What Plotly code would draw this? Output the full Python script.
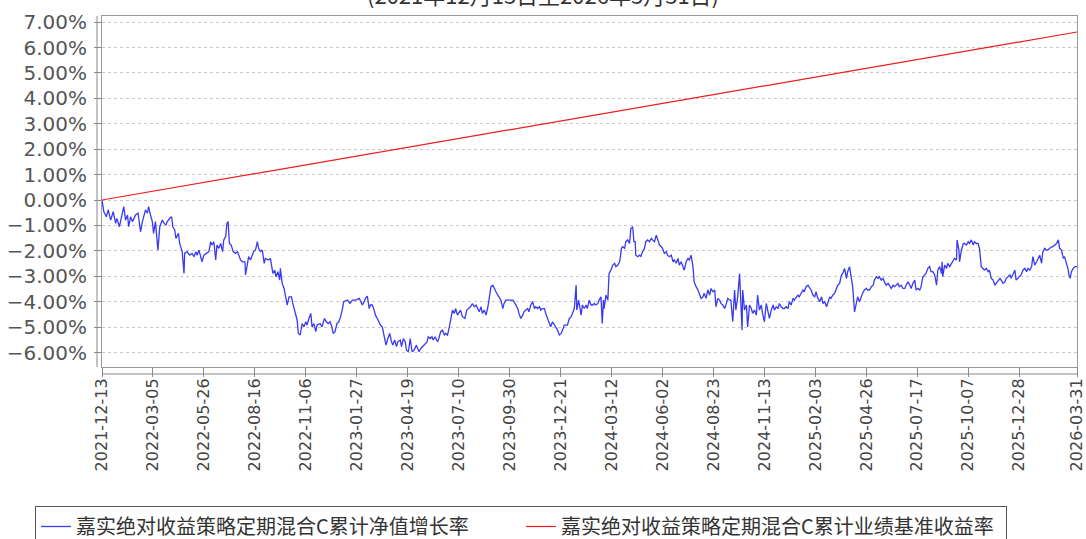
import plotly.graph_objects as go

# ---------------- data ----------------
x_tick_labels = [
    "2021-12-13", "2022-03-05", "2022-05-26", "2022-08-16", "2022-11-06",
    "2023-01-27", "2023-04-19", "2023-07-10", "2023-09-30", "2023-12-21",
    "2024-03-12", "2024-06-02", "2024-08-23", "2024-11-13", "2025-02-03",
    "2025-04-26", "2025-07-17", "2025-10-07", "2025-12-28", "2026-03-31",
]

nav_name = "嘉实绝对收益策略定期混合C累计净值增长率"
bench_name = "嘉实绝对收益策略定期混合C累计业绩基准收益率"
title_text = "(2021年12月13日至2026年3月31日)"

nav_dates = [
    "2021-12-13", "2021-12-16", "2021-12-20", "2021-12-23", "2021-12-27", "2021-12-31",
    "2022-01-04", "2022-01-06", "2022-01-10", "2022-01-13", "2022-01-17", "2022-01-20",
    "2022-01-23", "2022-01-25", "2022-01-28", "2022-01-31", "2022-02-05", "2022-02-09",
    "2022-02-13", "2022-02-16", "2022-02-21", "2022-02-24", "2022-02-26", "2022-03-01",
    "2022-03-04", "2022-03-06", "2022-03-09", "2022-03-13", "2022-03-16", "2022-03-20",
    "2022-03-23", "2022-03-26", "2022-03-28", "2022-04-01", "2022-04-04", "2022-04-06",
    "2022-04-09", "2022-04-11", "2022-04-15", "2022-04-17", "2022-04-21", "2022-04-24",
    "2022-04-25", "2022-04-29", "2022-05-03", "2022-05-07", "2022-05-10", "2022-05-13",
    "2022-05-15", "2022-05-18", "2022-05-21", "2022-05-23", "2022-05-26", "2022-05-30",
    "2022-06-03", "2022-06-06", "2022-06-08", "2022-06-11", "2022-06-14", "2022-06-16",
    "2022-06-19", "2022-06-22", "2022-06-25", "2022-06-27", "2022-06-30", "2022-07-02",
    "2022-07-04", "2022-07-06", "2022-07-09", "2022-07-12", "2022-07-16", "2022-07-19",
    "2022-07-21", "2022-07-24", "2022-07-27", "2022-07-31", "2022-08-01", "2022-08-04",
    "2022-08-06", "2022-08-09", "2022-08-12", "2022-08-14", "2022-08-17", "2022-08-20",
    "2022-08-22", "2022-08-25", "2022-08-28", "2022-08-31", "2022-09-02", "2022-09-07",
    "2022-09-10", "2022-09-12", "2022-09-14", "2022-09-17", "2022-09-19", "2022-09-22",
    "2022-09-25", "2022-09-26", "2022-09-29", "2022-10-02", "2022-10-04", "2022-10-07",
    "2022-10-10", "2022-10-14", "2022-10-16", "2022-10-19", "2022-10-23", "2022-10-25",
    "2022-10-28", "2022-10-31", "2022-11-03", "2022-11-06", "2022-11-08", "2022-11-11",
    "2022-11-14", "2022-11-16", "2022-11-19", "2022-11-22", "2022-11-24", "2022-11-29",
    "2022-12-02", "2022-12-06", "2022-12-09", "2022-12-12", "2022-12-15", "2022-12-18",
    "2022-12-20", "2022-12-23", "2022-12-26", "2022-12-29", "2023-01-01", "2023-01-04",
    "2023-01-06", "2023-01-12", "2023-01-16", "2023-01-20", "2023-01-25", "2023-01-31",
    "2023-02-02", "2023-02-05", "2023-02-08", "2023-02-10", "2023-02-13", "2023-02-16",
    "2023-02-18", "2023-02-21", "2023-02-24", "2023-02-26", "2023-03-01", "2023-03-04",
    "2023-03-06", "2023-03-09", "2023-03-12", "2023-03-15", "2023-03-18", "2023-03-21",
    "2023-03-24", "2023-03-26", "2023-03-29", "2023-04-01", "2023-04-03", "2023-04-07",
    "2023-04-09", "2023-04-12", "2023-04-15", "2023-04-17", "2023-04-20", "2023-04-23",
    "2023-04-26", "2023-04-29", "2023-05-03", "2023-05-07", "2023-05-10", "2023-05-13",
    "2023-05-16", "2023-05-20", "2023-05-22", "2023-05-25", "2023-05-28", "2023-05-30",
    "2023-06-02", "2023-06-06", "2023-06-08", "2023-06-11", "2023-06-14", "2023-06-17",
    "2023-06-19", "2023-06-22", "2023-06-25", "2023-06-28", "2023-06-30", "2023-07-03",
    "2023-07-05", "2023-07-08", "2023-07-11", "2023-07-13", "2023-07-16", "2023-07-20",
    "2023-07-23", "2023-07-26", "2023-07-29", "2023-08-01", "2023-08-04", "2023-08-07",
    "2023-08-09", "2023-08-12", "2023-08-15", "2023-08-17", "2023-08-20", "2023-08-23",
    "2023-08-26", "2023-08-28", "2023-08-31", "2023-09-03", "2023-09-05", "2023-09-08",
    "2023-09-11", "2023-09-13", "2023-09-16", "2023-09-19", "2023-09-21", "2023-09-24",
    "2023-09-29", "2023-10-05", "2023-10-07", "2023-10-10", "2023-10-13", "2023-10-15",
    "2023-10-18", "2023-10-21", "2023-10-23", "2023-10-26", "2023-10-29", "2023-10-31",
    "2023-11-03", "2023-11-06", "2023-11-09", "2023-11-11", "2023-11-14", "2023-11-17",
    "2023-11-19", "2023-11-22", "2023-11-25", "2023-11-27", "2023-11-30", "2023-12-03",
    "2023-12-05", "2023-12-08", "2023-12-11", "2023-12-13", "2023-12-16", "2023-12-19",
    "2023-12-22", "2023-12-24", "2023-12-27", "2024-01-01", "2024-01-04", "2024-01-07",
    "2024-01-09", "2024-01-12", "2024-01-15", "2024-01-16", "2024-01-19", "2024-01-21",
    "2024-01-23", "2024-01-25", "2024-01-28", "2024-01-31", "2024-02-02", "2024-02-05",
    "2024-02-08", "2024-02-11", "2024-02-13", "2024-02-16", "2024-02-19", "2024-02-21",
    "2024-02-24", "2024-02-26", "2024-02-28", "2024-02-29", "2024-03-03", "2024-03-06",
    "2024-03-08", "2024-03-11", "2024-03-14", "2024-03-17", "2024-03-19", "2024-03-22",
    "2024-03-25", "2024-03-28", "2024-03-30", "2024-04-02", "2024-04-04", "2024-04-07",
    "2024-04-10", "2024-04-12", "2024-04-15", "2024-04-17", "2024-04-19", "2024-04-20",
    "2024-04-23", "2024-04-26", "2024-04-28", "2024-05-01", "2024-05-04", "2024-05-06",
    "2024-05-09", "2024-05-12", "2024-05-15", "2024-05-17", "2024-05-20", "2024-05-23",
    "2024-05-25", "2024-05-28", "2024-05-31", "2024-06-02", "2024-06-05", "2024-06-08",
    "2024-06-10", "2024-06-13", "2024-06-16", "2024-06-19", "2024-06-21", "2024-06-24",
    "2024-06-27", "2024-06-29", "2024-07-02", "2024-07-05", "2024-07-07", "2024-07-10",
    "2024-07-13", "2024-07-15", "2024-07-18", "2024-07-21", "2024-07-23", "2024-07-26",
    "2024-07-29", "2024-08-01", "2024-08-03", "2024-08-06", "2024-08-08", "2024-08-11",
    "2024-08-14", "2024-08-17", "2024-08-19", "2024-08-22", "2024-08-25", "2024-08-27",
    "2024-08-30", "2024-09-02", "2024-09-04", "2024-09-07", "2024-09-10", "2024-09-12",
    "2024-09-15", "2024-09-18", "2024-09-20", "2024-09-23", "2024-09-26", "2024-09-28",
    "2024-10-01", "2024-10-04", "2024-10-05", "2024-10-08", "2024-10-09", "2024-10-12",
    "2024-10-15", "2024-10-17", "2024-10-20", "2024-10-23", "2024-10-25", "2024-10-28",
    "2024-10-31", "2024-11-02", "2024-11-05", "2024-11-08", "2024-11-10", "2024-11-13",
    "2024-11-16", "2024-11-19", "2024-11-21", "2024-11-24", "2024-11-27", "2024-11-29",
    "2024-12-02", "2024-12-05", "2024-12-07", "2024-12-10", "2024-12-13", "2024-12-15",
    "2024-12-18", "2024-12-21", "2024-12-23", "2024-12-26", "2024-12-29", "2024-12-31",
    "2025-01-03", "2025-01-06", "2025-01-08", "2025-01-11", "2025-01-14", "2025-01-16",
    "2025-01-19", "2025-01-22", "2025-01-25", "2025-01-27", "2025-01-30", "2025-02-02",
    "2025-02-04", "2025-02-07", "2025-02-10", "2025-02-13", "2025-02-15", "2025-02-18",
    "2025-02-21", "2025-02-23", "2025-02-26", "2025-02-28", "2025-03-03", "2025-03-06",
    "2025-03-08", "2025-03-11", "2025-03-14", "2025-03-17", "2025-03-19", "2025-03-22",
    "2025-03-25", "2025-03-27", "2025-03-30", "2025-04-02", "2025-04-04", "2025-04-07",
    "2025-04-10", "2025-04-12", "2025-04-15", "2025-04-18", "2025-04-20", "2025-04-23",
    "2025-04-26", "2025-04-28", "2025-05-01", "2025-05-04", "2025-05-07", "2025-05-09",
    "2025-05-12", "2025-05-15", "2025-05-17", "2025-05-20", "2025-05-23", "2025-05-25",
    "2025-05-28", "2025-05-31", "2025-06-02", "2025-06-05", "2025-06-08", "2025-06-10",
    "2025-06-13", "2025-06-16", "2025-06-18", "2025-06-21", "2025-06-24", "2025-06-27",
    "2025-06-29", "2025-07-02", "2025-07-05", "2025-07-07", "2025-07-10", "2025-07-13",
    "2025-07-15", "2025-07-18", "2025-07-21", "2025-07-23", "2025-07-26", "2025-07-29",
    "2025-07-31", "2025-08-03", "2025-08-06", "2025-08-08", "2025-08-11", "2025-08-14",
    "2025-08-17", "2025-08-19", "2025-08-22", "2025-08-25", "2025-08-26", "2025-08-27",
    "2025-08-30", "2025-09-02", "2025-09-04", "2025-09-07", "2025-09-10", "2025-09-12",
    "2025-09-15", "2025-09-18", "2025-09-19", "2025-09-22", "2025-09-23", "2025-09-26",
    "2025-09-29", "2025-10-01", "2025-10-04", "2025-10-07", "2025-10-09", "2025-10-12",
    "2025-10-15", "2025-10-17", "2025-10-20", "2025-10-23", "2025-10-25", "2025-10-28",
    "2025-10-31", "2025-11-02", "2025-11-05", "2025-11-08", "2025-11-10", "2025-11-13",
    "2025-11-16", "2025-11-19", "2025-11-21", "2025-11-24", "2025-11-27", "2025-11-29",
    "2025-12-02", "2025-12-05", "2025-12-07", "2025-12-10", "2025-12-13", "2025-12-15",
    "2025-12-18", "2025-12-21", "2025-12-23", "2025-12-26", "2025-12-29", "2025-12-31",
    "2026-01-03", "2026-01-06", "2026-01-09", "2026-01-11", "2026-01-14", "2026-01-17",
    "2026-01-19", "2026-01-22", "2026-01-25", "2026-01-27", "2026-01-30", "2026-02-02",
    "2026-02-04", "2026-02-07", "2026-02-10", "2026-02-12", "2026-02-15", "2026-02-18",
    "2026-02-20", "2026-02-23", "2026-02-26", "2026-03-01", "2026-03-03", "2026-03-06",
    "2026-03-09", "2026-03-11", "2026-03-14", "2026-03-17", "2026-03-18", "2026-03-20",
    "2026-03-22", "2026-03-25", "2026-03-28", "2026-03-31",
]

nav_values = [
    0.00, -0.46, -0.66, -0.39, -0.79, -0.46,
    -0.92, -0.72, -1.05, -0.66, -0.26, -0.79,
    -0.59, -1.05, -0.66, -0.85, -0.59, -0.52,
    -1.25, -0.85, -0.39, -0.52, -0.26, -0.59,
    -0.85, -1.31, -0.85, -1.97, -1.05, -0.79,
    -0.92, -0.98, -0.85, -0.72, -0.66, -1.05,
    -1.18, -1.51, -1.31, -1.71, -2.03, -2.89,
    -2.10, -2.03, -2.17, -2.10, -2.23, -2.03,
    -2.17, -1.97, -2.23, -2.43, -2.17, -2.10,
    -2.03, -1.64, -1.77, -1.64, -2.36, -1.77,
    -1.90, -1.71, -2.03, -1.57, -1.44, -0.92,
    -0.85, -1.71, -1.77, -2.03, -2.10, -2.03,
    -2.17, -2.36, -2.43, -2.43, -2.95, -2.43,
    -2.23, -2.36, -2.17, -2.03, -1.97, -1.64,
    -1.90, -2.03, -1.97, -2.49, -2.30, -2.36,
    -2.30, -2.69, -2.89, -2.76, -3.02, -2.82,
    -3.15, -2.69, -3.28, -3.48, -3.74, -4.13,
    -3.81, -3.81, -4.07, -4.40, -4.72, -5.25,
    -5.31, -4.86, -4.99, -4.79, -4.92, -4.66,
    -4.46, -4.99, -4.86, -5.18, -4.92, -4.86,
    -4.99, -4.66, -4.79, -4.86, -4.79, -4.99,
    -5.25, -5.18, -4.86, -4.79, -4.59, -4.27,
    -4.00, -3.94, -4.07, -3.94, -3.94, -3.87,
    -4.00, -4.13, -4.00, -3.87, -3.78, -4.27,
    -4.13, -4.13, -4.33, -4.53, -4.66, -4.79,
    -4.92, -4.99, -5.38, -5.71, -5.45, -5.25,
    -5.58, -5.71, -5.51, -5.77, -5.58, -5.51,
    -5.77, -5.45, -5.58, -5.91, -5.97, -5.45,
    -5.97, -5.91, -5.71, -5.97, -5.84, -5.77,
    -5.71, -5.58, -5.38, -5.45, -5.38, -5.51,
    -5.38, -5.58, -5.45, -5.18, -5.12, -5.31,
    -5.25, -5.31, -4.99, -4.66, -4.33, -4.46,
    -4.27, -4.53, -4.40, -4.33, -4.59, -4.66,
    -4.33, -4.27, -4.20, -4.07, -4.20, -4.13,
    -4.27, -4.40, -4.20, -4.46, -4.33, -4.53,
    -4.20, -3.94, -3.41, -3.35, -3.48, -3.61,
    -3.74, -3.81, -3.94, -4.27, -4.07, -3.94,
    -3.94, -3.94, -4.00, -4.13, -4.27, -4.46,
    -4.66, -4.53, -4.40, -4.33, -4.27, -4.40,
    -4.13, -4.00, -4.27, -4.20, -4.27, -4.20,
    -4.33, -4.27, -4.27, -4.46, -4.66, -4.79,
    -4.99, -4.79, -4.92, -4.99, -5.12, -5.31,
    -5.25, -5.12, -4.92, -4.92, -4.66, -4.59,
    -4.46, -4.27, -3.35, -4.33, -3.94, -4.27,
    -4.53, -4.13, -4.27, -4.13, -4.27, -3.94,
    -4.13, -4.13, -4.07, -4.13, -4.07, -3.94,
    -3.81, -4.86, -3.94, -4.27, -3.74, -3.94,
    -2.89, -2.76, -2.56, -2.49, -2.62, -2.56,
    -2.43, -1.90, -1.84, -1.90, -1.64, -1.57,
    -1.71, -1.12, -1.05, -1.64, -1.64, -2.17,
    -2.23, -2.17, -2.23, -2.03, -1.90, -1.64,
    -1.57, -1.64, -1.51, -1.57, -1.64, -1.38,
    -1.57, -1.77, -1.84, -1.90, -2.10, -2.03,
    -2.17, -2.23, -2.17, -2.43, -2.36, -2.49,
    -2.30, -2.56, -2.43, -2.62, -2.76, -2.43,
    -2.30, -2.36, -2.17, -2.62, -3.22, -3.41,
    -3.54, -3.74, -3.87, -3.81, -3.67, -3.87,
    -3.54, -3.74, -3.48, -3.61, -3.54, -4.20,
    -3.87, -3.94, -4.07, -4.13, -4.27, -4.13,
    -3.87, -3.94, -3.94, -4.79, -3.54, -4.33,
    -3.81, -2.89, -3.41, -5.12, -3.54, -4.33,
    -4.13, -4.99, -4.13, -4.27, -4.46, -4.33,
    -4.53, -3.74, -4.33, -4.13, -4.46, -4.79,
    -4.07, -4.46, -4.66, -4.33, -4.13, -4.33,
    -4.20, -4.27, -4.07, -4.20, -4.27, -4.27,
    -4.20, -4.27, -4.00, -4.13, -3.87, -3.94,
    -3.81, -3.74, -3.81, -3.67, -3.54, -3.61,
    -3.41, -3.35, -3.48, -3.54, -3.74, -3.81,
    -3.61, -3.87, -4.00, -3.81, -4.07, -4.00,
    -4.20, -4.00, -3.81, -3.87, -3.74, -3.67,
    -3.54, -3.35, -3.28, -2.95, -2.89, -2.69,
    -3.08, -2.82, -2.62, -3.02, -3.41, -4.40,
    -3.94, -3.81, -4.00, -3.74, -3.67, -3.54,
    -3.48, -3.54, -3.54, -3.41, -3.35, -3.15,
    -3.02, -3.08, -3.02, -3.15, -3.08, -3.22,
    -3.35, -3.28, -3.35, -3.48, -3.35, -3.41,
    -3.35, -3.28, -3.41, -3.35, -3.48, -3.48,
    -3.35, -3.22, -3.35, -3.48, -3.28, -3.15,
    -3.54, -3.48, -3.54, -3.41, -3.02, -2.95,
    -2.89, -2.69, -2.62, -2.82, -2.82, -2.95,
    -3.35, -2.76, -2.62, -2.89, -2.43, -3.02,
    -2.56, -2.69, -2.49, -2.62, -2.49, -2.43,
    -2.30, -2.36, -1.57, -1.97, -2.43, -1.97,
    -1.71, -1.71, -1.77, -1.64, -1.71, -1.57,
    -1.77, -1.64, -1.71, -1.71, -1.90, -2.62,
    -2.69, -2.76, -2.69, -2.82, -2.76, -3.08,
    -3.15, -3.35, -3.28, -3.15, -3.08, -3.15,
    -3.28, -3.22, -3.08, -3.02, -2.95, -3.08,
    -2.89, -2.76, -3.15, -3.08, -3.02, -2.95,
    -2.76, -2.69, -2.82, -2.69, -2.76, -2.62,
    -2.23, -2.56, -2.43, -2.30, -2.17, -2.49,
    -2.03, -1.90, -1.97, -1.97, -1.90, -1.84,
    -1.84, -1.77, -1.71, -1.57, -1.90, -1.97,
    -2.30, -2.23, -2.49, -2.76, -2.95, -3.08,
    -2.82, -2.69, -2.62, -2.62,
]

bench_dates = ["2021-12-13", "2022-11-06", "2023-12-21", "2025-02-03", "2026-03-31"]
bench_values = [0.00, 1.38, 3.11, 4.83, 6.61]

# ---------------- figure ----------------
FONT = "DejaVu Sans, Noto Sans CJK SC, sans-serif"
CJK = "Noto Sans CJK SC, DejaVu Sans, sans-serif"

fig = go.Figure()
fig.add_trace(go.Scatter(
    x=nav_dates, y=nav_values, mode="lines", name=nav_name,
    line=dict(color="#3a3af2", width=1.3),
))
fig.add_trace(go.Scatter(
    x=bench_dates, y=bench_values, mode="lines", name=bench_name,
    line=dict(color="#ee1c1c", width=1.2),
))

fig.update_layout(
    width=1086, height=539,
    margin=dict(l=102, r=9, t=16, b=172, autoexpand=False),
    paper_bgcolor="white", plot_bgcolor="white",
    font=dict(family=FONT, color="#444444"),
    showlegend=True,
    legend=dict(
        orientation="h",
        xref="paper", yref="paper",
        x=-0.0687, xanchor="left", y=-0.396, yanchor="top",
        bordercolor="#555555", borderwidth=1, bgcolor="white",
        font=dict(family=CJK, size=20, color="#333333"),
        itemwidth=30, tracegroupgap=0,
        entrywidth=440, entrywidthmode="pixels",
    ),
    annotations=[dict(
        text=title_text, xref="paper", yref="paper",
        x=0.4523, y=1.0627, xanchor="center", yanchor="middle",
        showarrow=False, font=dict(family=CJK, size=22, color="#333333"),
    )],
)

fig.update_xaxes(
    type="date",
    range=[x_tick_labels[0], x_tick_labels[-1]],
    tickmode="array", tickvals=x_tick_labels, ticktext=x_tick_labels,
    tickangle=-90, tickfont=dict(size=16, color="#444444"),
    ticks="outside", ticklen=9, tickcolor="#888888", ticklabelstandoff=-5,
    ticklabeloverflow="allow",
    showgrid=False, zeroline=False,
    showline=True, linecolor="#999999", linewidth=1, mirror=True,
)
fig.update_yaxes(
    range=[-6.57, 7.24],
    tick0=0, dtick=1, tickformat=".2f", ticksuffix="%",
    tickfont=dict(size=20, color="#555555"),
    ticks="outside", ticklen=7, tickcolor="#888888", ticklabelstandoff=3,
    showgrid=True, gridcolor="#c8c8c8", gridwidth=1, griddash="3px,3px",
    zeroline=False,
    showline=True, linecolor="#999999", linewidth=1, mirror=True,
)

# offset axis lines (drawn slightly outside the plot frame, as in the reference)
fig.add_shape(type="line", xref="paper", yref="paper", xsizemode="pixel", xanchor=0,
              x0=-5, x1=-5, y0=0, y1=1, line=dict(color="#888888", width=1))
fig.add_shape(type="line", xref="paper", yref="paper", ysizemode="pixel", yanchor=0,
              y0=-7, y1=-7, x0=0, x1=1, line=dict(color="#888888", width=1))

# the page's default 8px body margin would shift the whole 1086x539 figure
fig.write_html(
    "out.html",
    config={"displayModeBar": False},
    post_script="document.body.style.margin='0';document.body.style.overflow='hidden';",
)
